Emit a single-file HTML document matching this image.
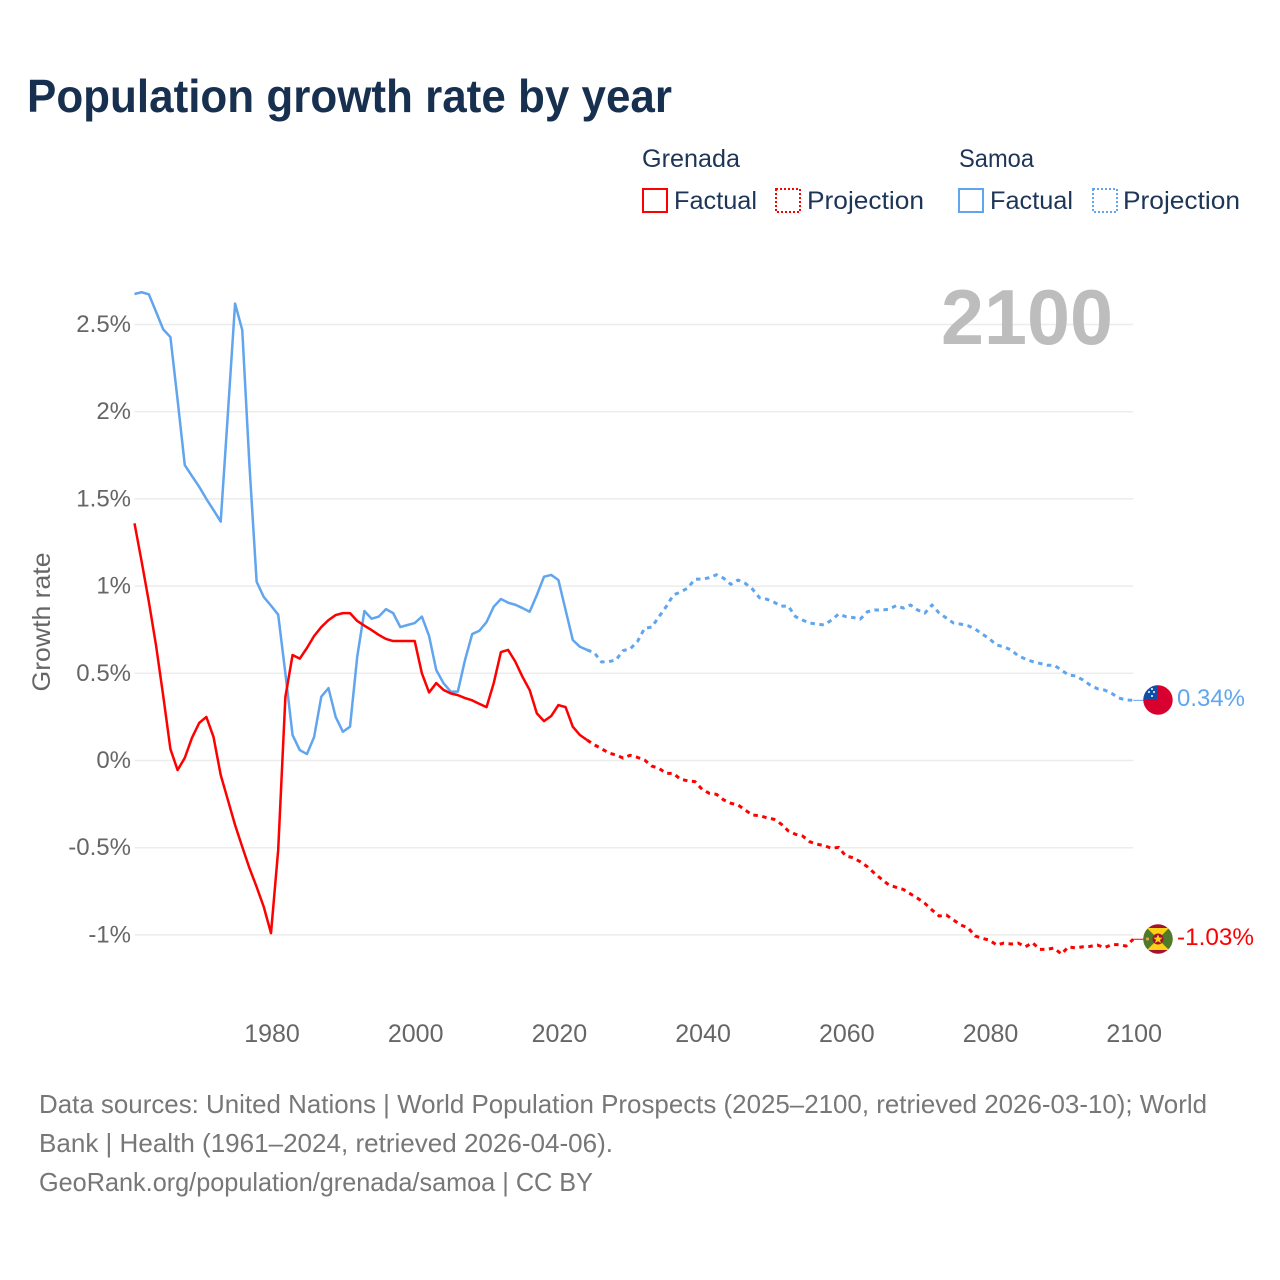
<!DOCTYPE html>
<html lang="en">
<head>
<meta charset="utf-8">
<title>Population growth rate by year</title>
<style>
html,body{margin:0;padding:0;background:#fff;width:1280px;height:1280px;overflow:hidden}
svg{display:block;font-family:"Liberation Sans",sans-serif}
</style>
</head>
<body>
<svg id="chart" xmlns="http://www.w3.org/2000/svg" width="1280" height="1280" viewBox="0 0 1280 1280">
  <defs>
    <clipPath id="clip-samoa"><circle cx="1158" cy="700" r="14.7"/></clipPath>
    <clipPath id="clip-grenada"><circle cx="1158" cy="939" r="14.7"/></clipPath>
  </defs>
  <rect width="1280" height="1280" fill="#fff"/>
  <text x="27" y="112" font-size="46" font-weight="700" fill="#18304f" textLength="645" lengthAdjust="spacingAndGlyphs">Population growth rate by year</text>

  <g font-size="25" fill="#1d3557">
    <text x="642" y="167" textLength="98" lengthAdjust="spacingAndGlyphs">Grenada</text>
    <rect x="643" y="189" width="24" height="23" fill="none" stroke="#ff0000" stroke-width="2"/>
    <text x="674" y="209" textLength="83" lengthAdjust="spacingAndGlyphs">Factual</text>
    <rect x="776" y="189" width="24" height="23" fill="none" stroke="#ff0000" stroke-width="2" stroke-dasharray="2 2"/>
    <text x="807" y="209" textLength="117" lengthAdjust="spacingAndGlyphs">Projection</text>
    <text x="959" y="167" textLength="75" lengthAdjust="spacingAndGlyphs">Samoa</text>
    <rect x="959" y="189" width="24" height="23" fill="none" stroke="#60a5ee" stroke-width="2"/>
    <text x="990" y="209" textLength="83" lengthAdjust="spacingAndGlyphs">Factual</text>
    <rect x="1093" y="189" width="24" height="23" fill="none" stroke="#60a5ee" stroke-width="2" stroke-dasharray="2 2"/>
    <text x="1123" y="209" textLength="117" lengthAdjust="spacingAndGlyphs">Projection</text>
  </g>

  <g id="grid"></g>
  <g id="y-axis" font-size="24" fill="#666" text-anchor="end"></g>
  <g id="x-axis" font-size="25" fill="#666" text-anchor="middle"></g>
  <text transform="translate(50,622) rotate(-90)" font-size="25" fill="#666" text-anchor="middle" textLength="139" lengthAdjust="spacingAndGlyphs">Growth rate</text>
  <text x="941" y="344" font-size="78" font-weight="700" fill="#bdbdbd" textLength="172" lengthAdjust="spacingAndGlyphs">2100</text>

  <g id="series"></g>

  <g clip-path="url(#clip-samoa)">
    <rect x="1143" y="685" width="30" height="30" fill="#d8002f"/>
    <rect x="1143" y="685" width="15" height="15" fill="#0f4fa8"/>
    <circle cx="1152" cy="689" r="1" fill="#fff"/>
    <circle cx="1149" cy="692" r="1" fill="#fff"/>
    <circle cx="1154" cy="692" r="1" fill="#fff"/>
    <circle cx="1152" cy="696" r="1" fill="#fff"/>
  </g>
  <g clip-path="url(#clip-grenada)">
    <rect x="1143" y="924" width="30" height="30" fill="#a5122e"/>
    <rect x="1143" y="928" width="30" height="22" fill="#fcd116"/>
    <polygon points="1158,939 1147,928 1143,928 1143,950 1147,950" fill="#4f7a2c"/>
    <polygon points="1158,939 1169,928 1173,928 1173,950 1169,950" fill="#4f7a2c"/>
    <circle cx="1158" cy="939" r="5.5" fill="#a5122e"/>
    <polygon points="1158,934.5 1159.3,937.6 1162.5,937.8 1160,939.9 1160.9,943 1158,941.3 1155.1,943 1156,939.9 1153.5,937.8 1156.7,937.6" fill="#fcd116"/>
    <circle cx="1147.5" cy="939" r="1.6" fill="#e8a33a"/>
  </g>
  <text id="label-samoa" x="1177" y="706" font-size="24" fill="#60a5ee" textLength="68" lengthAdjust="spacingAndGlyphs">0.34%</text>
  <text id="label-grenada" x="1177" y="945" font-size="24" fill="#ff0000" textLength="77" lengthAdjust="spacingAndGlyphs">-1.03%</text>

  <g font-size="26" fill="#777">
    <text x="39" y="1113" textLength="1168" lengthAdjust="spacingAndGlyphs">Data sources: United Nations | World Population Prospects (2025–2100, retrieved 2026-03-10); World</text>
    <text x="39" y="1152" textLength="574" lengthAdjust="spacingAndGlyphs">Bank | Health (1961–2024, retrieved 2026-04-06).</text>
    <text x="39" y="1191" textLength="554" lengthAdjust="spacingAndGlyphs">GeoRank.org/population/grenada/samoa | CC BY</text>
  </g>
</svg>
<script>
const yTickValues = [2.5, 2, 1.5, 1, 0.5, 0, -0.5, -1];
const yTickLabels = ['2.5%', '2%', '1.5%', '1%', '0.5%', '0%', '-0.5%', '-1%'];
const xTickYears = [1980, 2000, 2020, 2040, 2060, 2080, 2100];

const factualYears = [1961,1962,1963,1964,1965,1966,1967,1968,1969,1970,1971,1972,1973,1974,1975,1976,1977,1978,1979,1980,1981,1982,1983,1984,1985,1986,1987,1988,1989,1990,1991,1992,1993,1994,1995,1996,1997,1998,1999,2000,2001,2002,2003,2004,2005,2006,2007,2008,2009,2010,2011,2012,2013,2014,2015,2016,2017,2018,2019,2020,2021,2022,2023,2024];
const projectionYears = [2024,2025,2026,2027,2028,2029,2030,2031,2032,2033,2034,2035,2036,2037,2038,2039,2040,2041,2042,2043,2044,2045,2046,2047,2048,2049,2050,2051,2052,2053,2054,2055,2056,2057,2058,2059,2060,2061,2062,2063,2064,2065,2066,2067,2068,2069,2070,2071,2072,2073,2074,2075,2076,2077,2078,2079,2080,2081,2082,2083,2084,2085,2086,2087,2088,2089,2090,2091,2092,2093,2094,2095,2096,2097,2098,2099,2100];

const grenadaFactual = [1.36,1.14,0.91,0.66,0.37,0.066,-0.055,0.015,0.13,0.215,0.25,0.135,-0.083,-0.226,-0.37,-0.495,-0.617,-0.725,-0.84,-0.99,-0.513,0.364,0.605,0.584,0.645,0.714,0.765,0.805,0.834,0.845,0.845,0.80,0.773,0.748,0.72,0.697,0.685,0.685,0.685,0.685,0.50,0.39,0.444,0.405,0.385,0.375,0.358,0.345,0.325,0.306,0.444,0.622,0.634,0.567,0.48,0.404,0.27,0.226,0.255,0.318,0.306,0.194,0.146,0.117];
const grenadaProjection = [0.117,0.09,0.068,0.043,0.032,0.014,0.03,0.018,0.003,-0.032,-0.045,-0.074,-0.074,-0.108,-0.116,-0.121,-0.165,-0.188,-0.194,-0.226,-0.245,-0.255,-0.284,-0.313,-0.316,-0.328,-0.337,-0.364,-0.404,-0.423,-0.433,-0.466,-0.48,-0.488,-0.503,-0.498,-0.548,-0.557,-0.58,-0.609,-0.647,-0.681,-0.714,-0.727,-0.739,-0.765,-0.79,-0.819,-0.857,-0.892,-0.886,-0.915,-0.943,-0.959,-1.006,-1.02,-1.03,-1.058,-1.047,-1.052,-1.047,-1.068,-1.045,-1.083,-1.083,-1.075,-1.11,-1.068,-1.075,-1.068,-1.066,-1.058,-1.073,-1.056,-1.056,-1.064,-1.025];
const samoaFactual = [2.675,2.685,2.673,2.573,2.472,2.428,2.067,1.694,1.631,1.57,1.50,1.436,1.37,1.99,2.62,2.468,1.694,1.025,0.937,0.888,0.836,0.50,0.146,0.06,0.037,0.135,0.366,0.415,0.25,0.165,0.194,0.595,0.857,0.813,0.825,0.868,0.845,0.765,0.777,0.788,0.825,0.714,0.519,0.444,0.395,0.395,0.576,0.725,0.744,0.794,0.882,0.926,0.905,0.893,0.874,0.853,0.949,1.054,1.064,1.035,0.863,0.691,0.652,0.634];
const samoaProjection = [0.634,0.618,0.565,0.567,0.576,0.63,0.64,0.682,0.758,0.765,0.825,0.882,0.949,0.966,0.989,1.04,1.04,1.048,1.065,1.045,1.01,1.035,1.016,0.983,0.933,0.925,0.908,0.885,0.885,0.825,0.805,0.788,0.782,0.777,0.805,0.84,0.825,0.82,0.81,0.853,0.863,0.863,0.867,0.888,0.874,0.892,0.863,0.845,0.892,0.845,0.817,0.788,0.782,0.773,0.754,0.725,0.697,0.662,0.652,0.634,0.60,0.582,0.567,0.557,0.546,0.546,0.519,0.49,0.485,0.462,0.433,0.412,0.404,0.385,0.358,0.347,0.345];

const NS = 'http://www.w3.org/2000/svg';
function xScale(year) { return 271 + (year - 1980) * 7.185; }
function yScale(value) { return 760.5 - value * 174.4; }
function linePath(years, values) {
  return values.map(function (v, i) {
    return (i ? 'L' : 'M') + xScale(years[i]).toFixed(2) + ' ' + yScale(v).toFixed(2);
  }).join(' ');
}

const gridGroup = document.getElementById('grid');
const yGroup = document.getElementById('y-axis');
const xGroup = document.getElementById('x-axis');
const seriesGroup = document.getElementById('series');

yTickValues.forEach(function (v, i) {
  const ln = document.createElementNS(NS, 'line');
  
  
  ln.setAttribute('x1', xScale(1961));
  ln.setAttribute('x2', xScale(2100));
  ln.setAttribute('y1', yScale(v));
  ln.setAttribute('y2', yScale(v));
  ln.setAttribute('stroke', '#ececec');
  ln.setAttribute('stroke-width', '1.5');
  gridGroup.appendChild(ln);
  const t = document.createElementNS(NS, 'text');
  
  
  t.setAttribute('x', 131);
  t.setAttribute('y', yScale(v) + 7.5);
  t.textContent = yTickLabels[i];
  yGroup.appendChild(t);
});

xTickYears.forEach(function (yr) {
  const t = document.createElementNS(NS, 'text');
  
  
  t.setAttribute('x', xScale(yr) + 1);
  t.setAttribute('y', 1042);
  t.textContent = String(yr);
  xGroup.appendChild(t);
});

function addLine(years, values, color, dashed, name) {
  const p = document.createElementNS(NS, 'path');
  
  
  p.setAttribute('d', linePath(years, values));
  p.setAttribute('fill', 'none');
  p.setAttribute('stroke', color);
  p.setAttribute('stroke-width', dashed ? '3' : '2.5');
  p.setAttribute('stroke-linejoin', 'round');
  if (dashed) p.setAttribute('stroke-dasharray', '4.5 4.5');
  seriesGroup.appendChild(p);
}
function addConnector(value, color, name) {
  const c = document.createElementNS(NS, 'line');
  
  
  c.setAttribute('x1', xScale(2100));
  c.setAttribute('x2', xScale(2100) + 12);
  c.setAttribute('y1', yScale(value));
  c.setAttribute('y2', yScale(value));
  c.setAttribute('stroke', color);
  c.setAttribute('stroke-width', '1');
  seriesGroup.appendChild(c);
}
addLine(factualYears, samoaFactual, '#60a5ee', false, 'samoa-factual-line');
addLine(projectionYears, samoaProjection, '#60a5ee', true, 'samoa-projection-line');
addLine(factualYears, grenadaFactual, '#ff0000', false, 'grenada-factual-line');
addLine(projectionYears, grenadaProjection, '#ff0000', true, 'grenada-projection-line');
addConnector(samoaProjection[samoaProjection.length - 1], '#60a5ee', 'samoa-label-connector');
addConnector(grenadaProjection[grenadaProjection.length - 1], '#ff0000', 'grenada-label-connector');
</script>
</body>
</html>
